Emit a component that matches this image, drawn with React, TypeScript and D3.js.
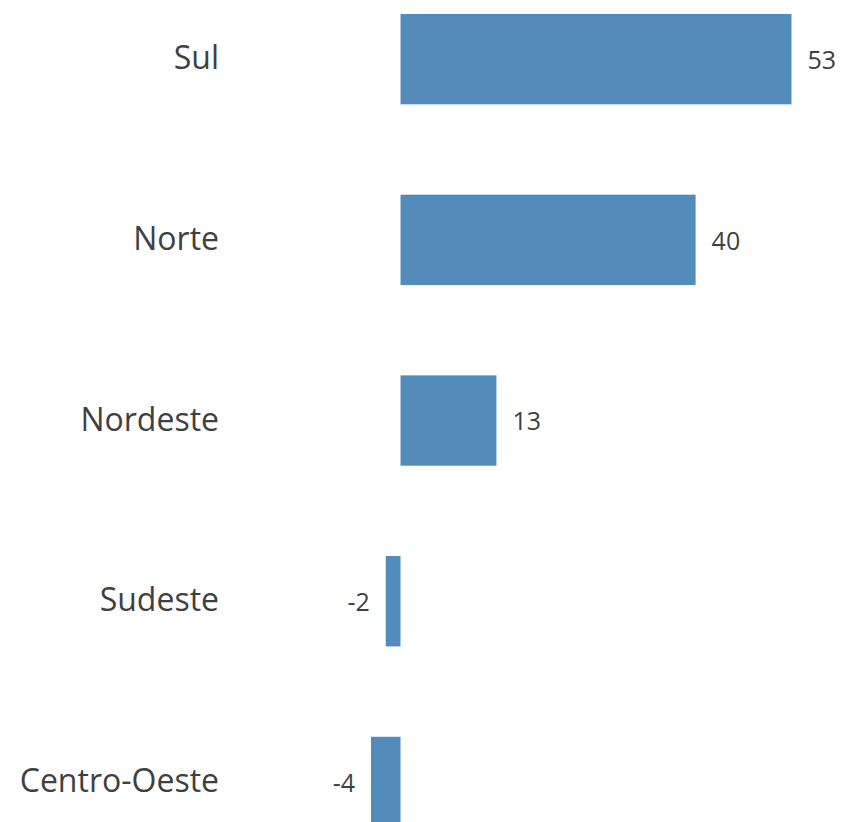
import React from "react";
import * as d3 from "d3";

const categories = ["Sul", "Norte", "Nordeste", "Sudeste", "Centro-Oeste"];
const values = [53, 40, 13, -2, -4];

const W = 841;
const H = 822;

export default function App() {
  const x = d3.scaleLinear().domain([0, 53]).range([400.5, 791.5]);
  const y = d3
    .scaleBand<string>()
    .domain(categories)
    .range([-31.2, 872.3])
    .paddingInner(0.5)
    .paddingOuter(0.25);
  const fill = "#538bba";
  const textColor = "#404040";
  const font = "'Open Sans', 'Noto Sans', sans-serif";
  return (
    <svg
      width={W}
      height={H}
      style={{ position: "absolute", left: 0, top: 0, background: "#fff" }}
    >
      {categories.map((c, i) => {
        const v = values[i];
        const y0 = y(c)!;
        const bw = y.bandwidth();
        const x0 = Math.min(x(0), x(v));
        const x1 = Math.max(x(0), x(v));
        const cy = y0 + bw / 2;
        return (
          <g key={c}>
            <rect x={x0} y={y0} width={x1 - x0} height={bw} fill={fill} />
            <text
              x={219}
              y={cy - 1}
              dy="0.35em"
              textAnchor="end"
              fontFamily={font}
              fontSize={32}
              fill={textColor}
            >
              {c}
            </text>
            <text
              x={v >= 0 ? x1 + 16 : x0 - 16}
              y={cy + 1}
              dy="0.35em"
              textAnchor={v >= 0 ? "start" : "end"}
              fontFamily={font}
              fontSize={25}
              fill={textColor}
            >
              {v}
            </text>
          </g>
        );
      })}
    </svg>
  );
}
